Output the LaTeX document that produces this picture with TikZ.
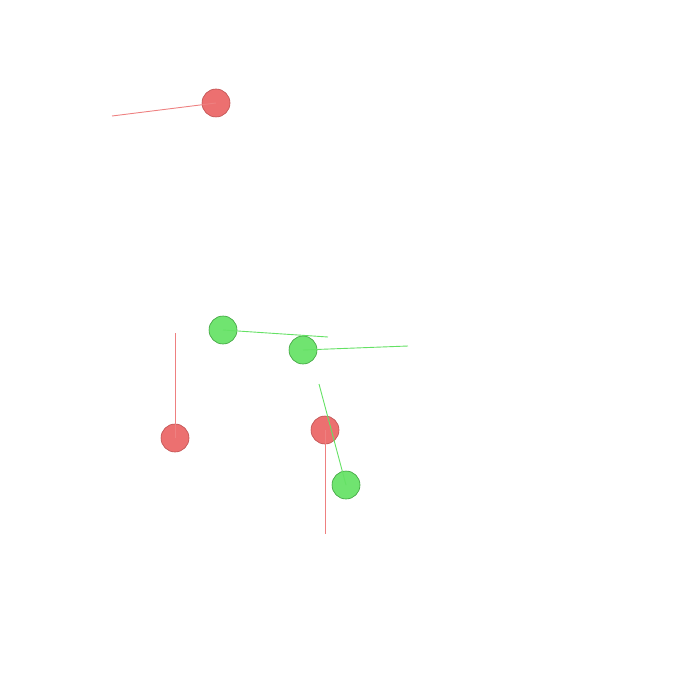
\documentclass[tikz,border=0pt]{standalone}
\usepackage{tikz}

\definecolor{ballred}{RGB}{236,112,112}
\definecolor{ballredline}{RGB}{190,80,80}
\definecolor{ballgreen}{RGB}{112,228,112}
\definecolor{ballgreenline}{RGB}{60,160,60}
\definecolor{vecred}{RGB}{238,128,128}
\definecolor{vecgreen}{RGB}{100,225,100}

\begin{document}
\begin{tikzpicture}[x=1pt, y=-1pt,
    redball/.style={circle, draw=ballredline, fill=ballred, minimum size=28pt, inner sep=0pt, line width=0.6pt},
    greenball/.style={circle, draw=ballgreenline, fill=ballgreen, minimum size=28pt, inner sep=0pt, line width=0.6pt},
    redvec/.style={draw=vecred, line width=0.9pt},
    greenvec/.style={draw=vecgreen, line width=0.9pt}]
    \useasboundingbox (0,0) rectangle (700,700);
    % Balls {r1, r2, r3, g1, g2, g3}
    \node [redball]   (r1) at (216,103) {};
    \node [redball]   (r2) at (175,438) {};
    \node [redball]   (r3) at (325,430) {};
    \node [greenball] (g1) at (223,330) {};
    \node [greenball] (g2) at (303,350) {};
    \node [greenball] (g3) at (346,485) {};

    % Vector tips
    \coordinate (r1v) at (112,116);
    \coordinate (r2v) at (175,333);
    \coordinate (r3v) at (325,534);
    \coordinate (g1v) at (328,337);
    \coordinate (g2v) at (408,346);
    \coordinate (g3v) at (319,384);

    % Vectors
    \path [redvec]   (r1.center) -- (r1v);
    \path [redvec]   (r2.center) -- (r2v);
    \path [redvec]   (r3.center) -- (r3v);
    \path [greenvec] (g1.center) -- (g1v);
    \path [greenvec] (g2.center) -- (g2v);
    \path [greenvec] (g3.center) -- (g3v);
\end{tikzpicture}
\end{document}
